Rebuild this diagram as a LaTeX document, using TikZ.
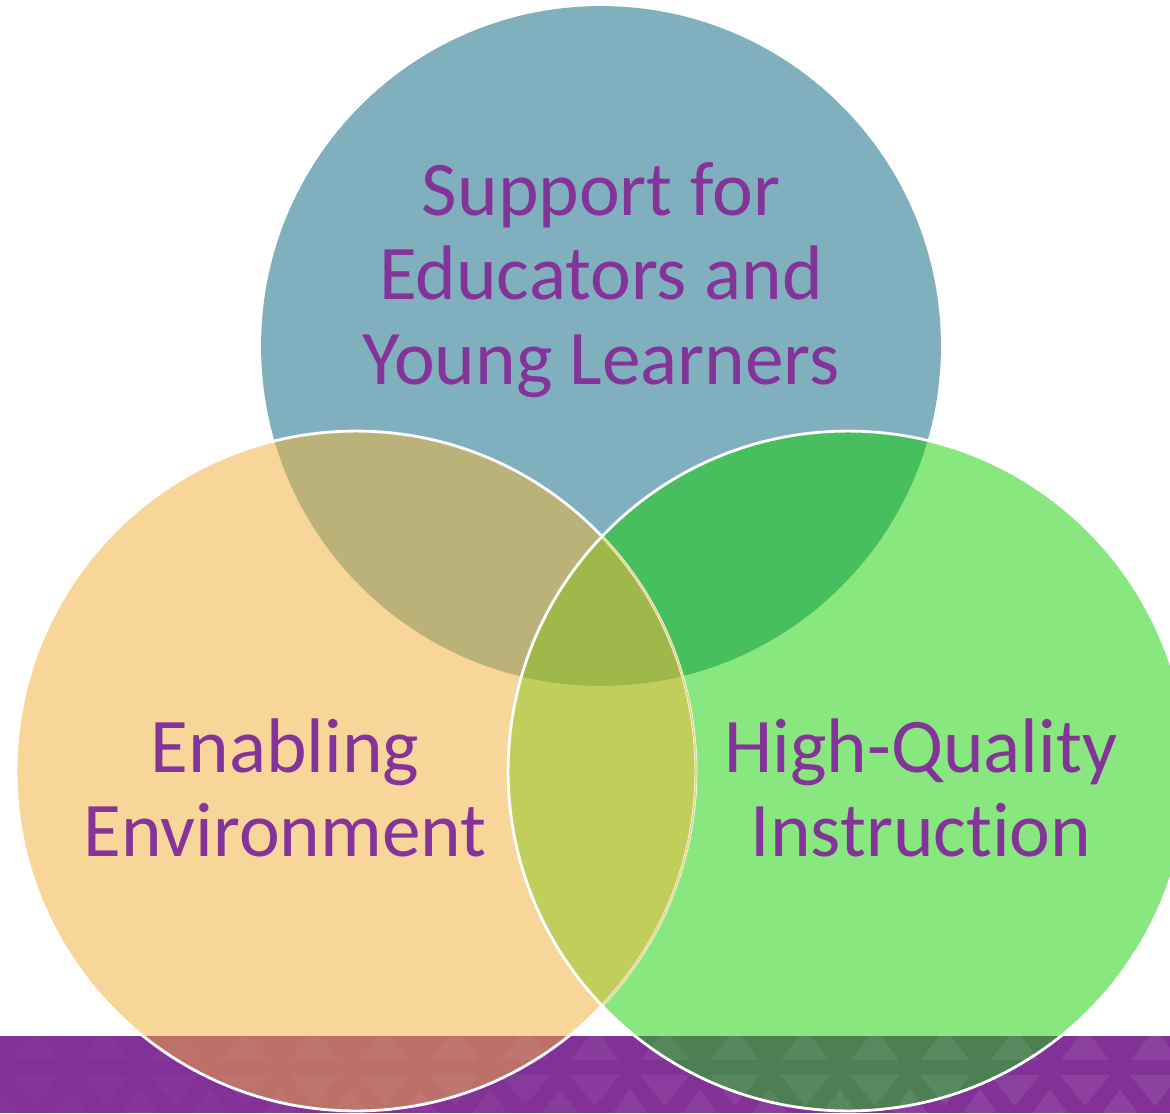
\documentclass[tikz,border=0pt]{standalone}
\usepackage{fontspec}
\setmainfont{Carlito}[Ligatures=NoCommon]
\usetikzlibrary{positioning}
\definecolor{topc}{HTML}{80B0BE}
\definecolor{leftc}{HTML}{F8D598}
\definecolor{rightc}{HTML}{89E77F}
\definecolor{tlc}{HTML}{BBB27A}
\definecolor{trc}{HTML}{48BF5F}
\definecolor{lrc}{HTML}{C0CE5C}
\definecolor{midc}{HTML}{A0B84A}
\definecolor{leftband}{HTML}{BC7068}
\definecolor{rightband}{HTML}{4C8052}
\definecolor{bandc}{HTML}{823196}
\definecolor{txtc}{HTML}{843399}
\definecolor{faintc}{HTML}{E8D68E}
\tikzset{lbl/.style={text=txtc,align=center,inner sep=0pt,font=\fontsize{44}{48}\selectfont},
  ring/.style={draw=white,line width=1.6pt},
  tri/.style={fill=white,draw=none}}

\begin{document}
\begin{tikzpicture}[x=0.02cm,y=-0.02cm]
\useasboundingbox (0,0) rectangle (1170,1113);
\def\rad{6.8cm}
\coordinate (sup) at (601,346);
\coordinate (env) at (356,771);
\coordinate (ins) at (848,771);

% purple strip
\fill[bandc] (0,1036) rectangle (1170,1113);

% circles
\fill[topc] (sup) circle[radius=\rad];
\fill[leftc] (env) circle[radius=\rad];
\fill[rightc] (ins) circle[radius=\rad];

% overlaps
\begin{scope}
\clip (sup) circle[radius=\rad];
\fill[tlc] (env) circle[radius=\rad];
\fill[trc] (ins) circle[radius=\rad];
\end{scope}
\begin{scope}
\clip (env) circle[radius=\rad];
\fill[lrc] (ins) circle[radius=\rad];
\end{scope}
\begin{scope}
\clip (sup) circle[radius=\rad];
\clip (env) circle[radius=\rad];
\fill[midc] (ins) circle[radius=\rad];
\end{scope}
\begin{scope}
\clip (0,1036) rectangle (1170,1113);
\fill[leftband] (env) circle[radius=\rad];
\fill[rightband] (ins) circle[radius=\rad];
\end{scope}

% triangles on the strip
\begin{scope}
\clip (0,1036) rectangle (1170,1113);
\foreach \k in {0,...,17}{
  \pgfmathsetmacro{\op}{0.02+0.07*\k/17}
  \fill[tri,fill opacity=\op] (35+70*\k-24,1060) -- (35+70*\k+24,1060) -- (35+70*\k,1028) -- cycle;
  \fill[tri,fill opacity=\op] (35+70*\k-25,1075) -- (35+70*\k+25,1075) -- (35+70*\k,1106) -- cycle;
  \fill[tri,fill opacity=\op] (70*\k-24,1122) -- (70*\k+24,1122) -- (70*\k,1089) -- cycle;
}
\end{scope}

% outlines
\draw[ring] (env) circle[radius=\rad];
\begin{scope}
\clip (ins) circle[radius=\rad];
\draw[faintc,line width=1pt] (env) circle[radius=\rad];
\end{scope}
\draw[ring] (ins) circle[radius=\rad];

% labels
\node[lbl] (support) at (601,280) {Support for\\Educators and\\Young Learners};
\node[lbl] (enabling) at (285,788) {Enabling\\Environment};
\node[lbl] (quality) at (921,788) {High-Quality\\Instruction};
\end{tikzpicture}
\end{document}
